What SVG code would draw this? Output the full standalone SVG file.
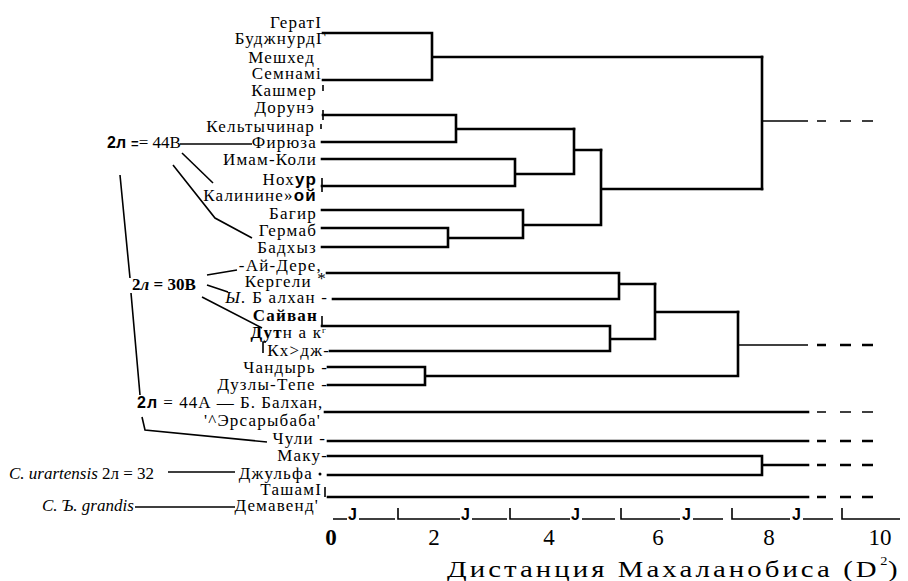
<svg xmlns="http://www.w3.org/2000/svg" width="908" height="581" viewBox="0 0 908 581">
<style>
.lb{font-family:"Liberation Serif","DejaVu Serif",serif;font-size:17px;letter-spacing:1.2px;fill:#000;text-anchor:end}
.an{font-family:"Liberation Serif","DejaVu Serif",serif;font-size:17px;fill:#000}
.bs{font-family:"Liberation Sans","DejaVu Sans",sans-serif;font-weight:bold}
.ax{font-family:"Liberation Serif","DejaVu Serif",serif;font-size:23px;fill:#000;text-anchor:middle}
.tt{font-family:"Liberation Serif","DejaVu Serif",serif;fill:#000}
.jj{font-family:"Liberation Sans","DejaVu Sans",sans-serif;font-weight:bold;font-size:16px;fill:#000}
.ln{stroke:#000;stroke-width:2.6;fill:none;stroke-linecap:square}
.tn{stroke:#000;stroke-width:1.5;fill:none}
.ds{stroke:#000;stroke-width:2.4;fill:none;stroke-dasharray:9 14 11 11 11}
.dt{stroke:#000;stroke-width:1.4;fill:none;stroke-dasharray:9 14 11 11 11}
.pt{stroke:#000;stroke-width:1.6;fill:none}
</style>
<rect width="908" height="581" fill="#fff"/>

<g id="connectors">
<path class="ln" d="M323 33H432M323 80H432M432 33V80M432 57H762"/>
<path class="ln" d="M323 115H456M322 142H456M456 115V142M456 129H574"/>
<path class="ln" d="M322 159H515M322 186H515M515 159V186M515 174H574M574 129V174M574 150H601"/>
<path class="ln" d="M322 210H523M322 228H448M322 247H448M448 228V247M448 238H523M523 210V238M523 225H601M601 150V225M601 189H762"/>
<path class="ln" d="M762 57V189"/>
<path class="tn" d="M762 121H808"/>
<line class="dt" x1="817" y1="121" x2="873" y2="121"/>
<path class="pt" d="M323 110V120M322 178V192"/>
<path class="ln" d="M327 273H619M333 299H619M619 273V299M619 284H655"/>
<path class="ln" d="M322 326H610M330 351H610M610 326V351M610 339H655M655 284V339M655 312H738"/>
<path class="ln" d="M328 367H425M328 385H425M425 367V385M425 376H738M738 312V376"/>
<path class="tn" d="M738 345H808"/>
<line class="ds" x1="817" y1="345" x2="873" y2="345"/>
<path class="pt" d="M322 316V326"/>
<path class="ln" d="M325 412H808"/>
<line class="dt" x1="817" y1="412" x2="873" y2="412"/>
<path class="ln" d="M328 441H808"/>
<line class="ds" x1="817" y1="441" x2="873" y2="441"/>
<path class="ln" d="M328 456H762M328 475H762M762 456V475M762 465H808"/>
<line class="ds" x1="817" y1="465" x2="873" y2="465"/>
<path class="ln" d="M328 497H808"/>
<line class="ds" x1="817" y1="497" x2="873" y2="497"/>
<path class="pt" d="M325 487V497"/>
<path class="tn" d="M180 144H252"/>
<path class="pt" d="M182 153L213 183"/>
<path class="pt" d="M173 165L215 218L252 238"/>
<path class="pt" d="M120 175L130 278M131 293L140 395"/>
<path class="pt" d="M207 275L237 270M207 285L228 292M202 297L262 328"/>
<path class="pt" d="M142 417L145 430L267 442"/>
<path class="tn" d="M168 472H235M135 507H235"/>
<path class="pt" d="M263 353V342H266"/>
<circle cx="320" cy="474" r="1.5" fill="#000"/>
</g>

<g id="leaves">
<g id="n-gerat"><text class="lb" x="322" y="28">ГератI</text></g>
<g id="n-budzhnurd"><text class="lb" x="327" y="44">БуджнурдГ</text></g>
<g id="n-meshhed"><text class="lb" x="315" y="63">Мешхед</text></g>
<g id="n-semnam"><text class="lb" x="322" y="79">Семнамі</text></g>
<g id="n-kashmer"><text class="lb" x="317" y="96">Кашмер</text><path class="pt" d="M323 85V91"/></g>
<g id="n-dorune"><text class="lb" x="315" y="113">Дорунэ</text></g>
<g id="n-keltychinar"><text class="lb" x="315" y="132">Кельтычинар</text><path class="pt" d="M321 124V129"/></g>
<g id="n-firyuza"><text class="lb" x="317" y="148">Фирюза</text></g>
<g id="n-imam"><text class="lb" x="317" y="165">Имам-Коли</text></g>
<g id="n-nohur"><text class="lb" x="317" y="185">Нох<tspan class="bs">ур</tspan></text></g>
<g id="n-kalininsk"><text class="lb" x="317" y="201">Калинине»<tspan class="bs">ой</tspan></text></g>
<g id="n-bagir"><text class="lb" x="317" y="219">Багир</text></g>
<g id="n-germab"><text class="lb" x="317" y="236">Гермаб</text></g>
<g id="n-badhyz"><text class="lb" x="317" y="253">Бадхыз</text></g>
<g id="n-aydere"><text class="lb" x="322" y="271">-Ай-Дере,</text></g>
<g id="n-kergeli"><text class="lb" x="327" y="287">Кергели <tspan dy="-3">*</tspan></text></g>
<g id="n-bbalhan1"><text class="lb" x="328" y="303"><tspan font-style="italic">Ы.</tspan> Б алхан -</text></g>
<g id="n-sayvan"><text class="lb" x="318" y="321" font-weight="bold">Сайван</text></g>
<g id="n-dutnak"><text class="lb" x="327" y="338"><tspan font-weight="bold">Дут</tspan>н а к<tspan dy="-5" font-size="9">г</tspan></text></g>
<g id="n-khodzh"><text class="lb" x="330" y="356">Кх&gt;дж-</text></g>
<g id="n-chandyr"><text class="lb" x="328" y="373">Чандырь -</text></g>
<g id="n-duzly"><text class="lb" x="328" y="390">Дузлы-Тепе -</text></g>
<g id="n-bbalhan2"><text class="an" x="137" y="408" letter-spacing="1"><tspan class="bs" font-size="16">2л</tspan> = 44А — Б. Балхан,</text></g>
<g id="n-ersary"><text class="lb" x="321" y="426">'^Эрсарыбаба'</text></g>
<g id="n-chuli"><text class="lb" x="326" y="444">Чули -</text></g>
<g id="n-maku"><text class="lb" x="328" y="461">Маку-</text></g>
<g id="n-dzhulfa"><text class="lb" x="313" y="479">Джульфа</text></g>
<g id="n-tasham"><text class="lb" x="322" y="495">ТашамI</text></g>
<g id="n-demavend"><text class="lb" x="319" y="511">Демавенд'</text></g>
</g>

<g id="annotations">
<g id="a-44b"><text class="an" x="107" y="148"><tspan class="bs" font-size="16">2л</tspan><tspan class="bs" font-size="13" dx="5">=</tspan>= 44В</text></g>
<g id="a-30b"><text class="an" x="132" y="290" font-size="18" font-weight="bold">2<tspan font-style="italic">л</tspan> = 30В</text></g>
<g id="a-urartensis"><text class="an" x="9" y="479"><tspan font-style="italic">C. urartensis</tspan> 2л = 32</text></g>
<g id="a-grandis"><text class="an" x="42" y="511" font-style="italic">C. Ъ. grandis</text></g>
</g>

<g id="axis">
<path class="pt" stroke-width="2" d="M333 519H347M359 519H395M398 508V519H460M472 519H507M510 508V519H570M582 519H615M621 508V519H680M693 519H723M732 508V519H790M803 519H833M842 508V519H900"/>
<text class="jj" x="348" y="520">J</text>
<text class="jj" x="461" y="520">J</text>
<text class="jj" x="571" y="520">J</text>
<text class="jj" x="682" y="520">J</text>
<text class="jj" x="792" y="520">J</text>
<text class="ax" x="331" y="545" font-weight="bold">0</text>
<text class="ax" x="434" y="545">2</text>
<text class="ax" x="549" y="545">4</text>
<text class="ax" x="658" y="545">6</text>
<text class="ax" x="769" y="545">8</text>
<text class="ax" x="880" y="545">10</text>
<g transform="scale(1.2,1)">
<text class="tt" x="372.5" y="577" font-size="24" textLength="358" lengthAdjust="spacing">Дистанция Махаланобиса (D</text>
<text class="tt" x="733.5" y="565" font-size="12">2</text>
<text class="tt" x="740" y="577" font-size="24">)</text>
</g>
</g>
</svg>
